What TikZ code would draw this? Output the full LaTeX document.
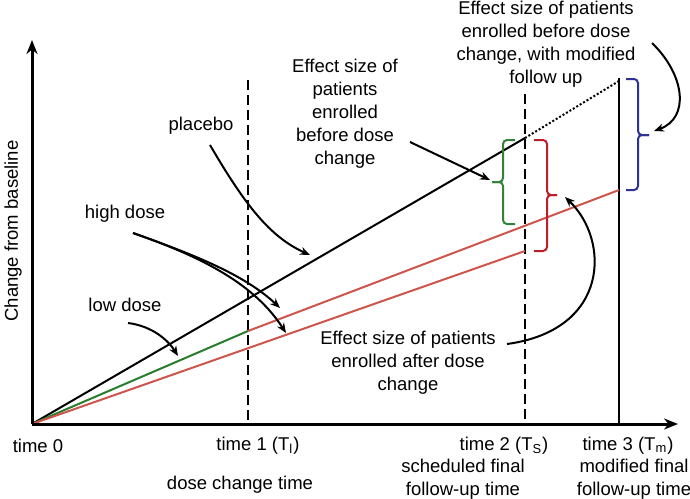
\documentclass[tikz,border=0pt]{standalone}
\usepackage{fontspec}
\setmainfont{Liberation Sans}
\usetikzlibrary{arrows.meta, calc}
\definecolor{doseRed}{RGB}{205,85,75}
\definecolor{doseGreen}{RGB}{40,125,45}
\definecolor{braceRed}{RGB}{190,30,40}
\definecolor{braceGreen}{RGB}{50,130,55}
\definecolor{braceBlue}{RGB}{45,50,150}
\tikzset{
    lbl/.style={inner sep=0pt, align=center, font=\fontsize{9.25}{11.5}\selectfont},
    axis/.style={line width=1.5pt, -{Stealth[length=7pt,width=5.5pt]}},
    timeline/.style={line width=1.2pt, dash pattern=on 5pt off 2.5pt},
    trend/.style={line width=1pt},
    pointer/.style={line width=1pt, -{Stealth[length=5pt,width=4pt]}},
    bracket/.style={line width=1pt, rounded corners=2pt}
}

\begin{document}
\begin{tikzpicture}[x=0.5pt, y=-0.5pt]
    \useasboundingbox (0,0) rectangle (690,498);

    % axes and time points
    \coordinate (O) at (32,424);
    \coordinate (ytop) at (32,40);
    \coordinate (xend) at (678,424);
    \coordinate (T1top) at (248,80);
    \coordinate (T1) at (248,424);
    \coordinate (T2top) at (525,94);
    \coordinate (T2) at (525,424);
    \coordinate (T3top) at (619,78);
    \coordinate (T3) at (619,424);

    % line ends
    \coordinate (pl2) at (525,138);
    \coordinate (pl3) at (619,81);
    \coordinate (lo1) at (248,331);
    \coordinate (hi3) at (619,190);
    \coordinate (hi2) at (525,251);

    \draw [timeline] (T1top) -- (T1);
    \draw [timeline] (T2top) -- (T2);
    \draw [trend] (T3top) -- (T3);

    \draw [trend] (O) -- (pl2);
    \draw [trend, dash pattern=on 1pt off 1pt] (pl2) -- (pl3);
    \draw [trend, doseGreen] (O) -- (lo1);
    \draw [trend, doseRed] (lo1) -- (hi3);
    \draw [trend, doseRed] (O) -- (hi2);

    \draw [axis] (O) -- (ytop);
    \draw [axis] (O) -- (xend);

    % braces
    \draw [bracket, braceGreen] (515,140) -- (503,140) -- (503,182) -- (492,182);
    \draw [bracket, braceGreen] (515,224) -- (503,224) -- (503,182) -- (492,182);
    \draw [bracket, braceRed] (534,140) -- (547,140) -- (547,195) -- (557,195);
    \draw [bracket, braceRed] (534,251) -- (547,251) -- (547,195) -- (557,195);
    \draw [bracket, braceBlue] (626,79) -- (638,79) -- (638,135) -- (649,135);
    \draw [bracket, braceBlue] (626,190) -- (638,190) -- (638,135) -- (649,135);

    % labels
    \node (ylabel) [lbl, rotate=90] at (13,231) {Change from baseline};
    \node (placebo) [lbl] at (201,126) {placebo};
    \node (highdose) [lbl] at (125,214) {high dose};
    \node (lowdose) [lbl] at (125,305) {low dose};
    \node (effbefore) [lbl] at (345,114) {Effect size of\\patients\\enrolled\\before dose\\change};
    \node (effmod) [lbl] at (546,44) {Effect size of patients\\enrolled before dose\\change, with modified\\follow up};
    \node (effafter) [lbl] at (408,363) {Effect size of patients\\enrolled after dose\\change};

    \node (time0) [lbl] at (38,446) {time 0};
    \node (time1) [lbl] at (258,446) {time 1 (T\textsubscript{l})};
    \node (time2) [lbl] at (504,446) {time 2 (T\textsubscript{S})};
    \node (time3) [lbl] at (628,446) {time 3 (T\textsubscript{m})};
    \node (dosechange) [lbl] at (240,485) {dose change time};
    \node (sched) [lbl] at (463,479) {scheduled final\\follow-up time};
    \node (modfinal) [lbl] at (634,479) {modified final\\follow-up time};

    % pointers
    \coordinate (plTip) at (310,255);
    \coordinate (hiTipA) at (280,308);
    \coordinate (hiTipB) at (286,333);
    \coordinate (loTip) at (178,356);
    \coordinate (befTip) at (490,180);
    \coordinate (modTip) at (654,131);
    \coordinate (aftTip) at (565,197);

    \draw [pointer] ($(placebo)+(9,19)$) .. controls (245,205) and (270,237) .. (plTip);
    \draw [pointer] ($(highdose)+(8,19)$) .. controls (195,255) and (245,275) .. (hiTipA);
    \draw [pointer] ($(highdose)+(8,19)$) .. controls (205,258) and (255,285) .. (hiTipB);
    \draw [pointer] ($(lowdose)+(3,18)$) .. controls (152,326) and (168,340) .. (loTip);
    \draw [pointer] ($(effbefore)+(65,28)$) -- (befTip);
    \draw [pointer] ($(effmod)+(106,-1)$) .. controls (685,75) and (690,118) .. (modTip);
    \draw [pointer] ($(effafter)+(99,-19)$) .. controls (610,330) and (610,240) .. (aftTip);
\end{tikzpicture}
\end{document}
